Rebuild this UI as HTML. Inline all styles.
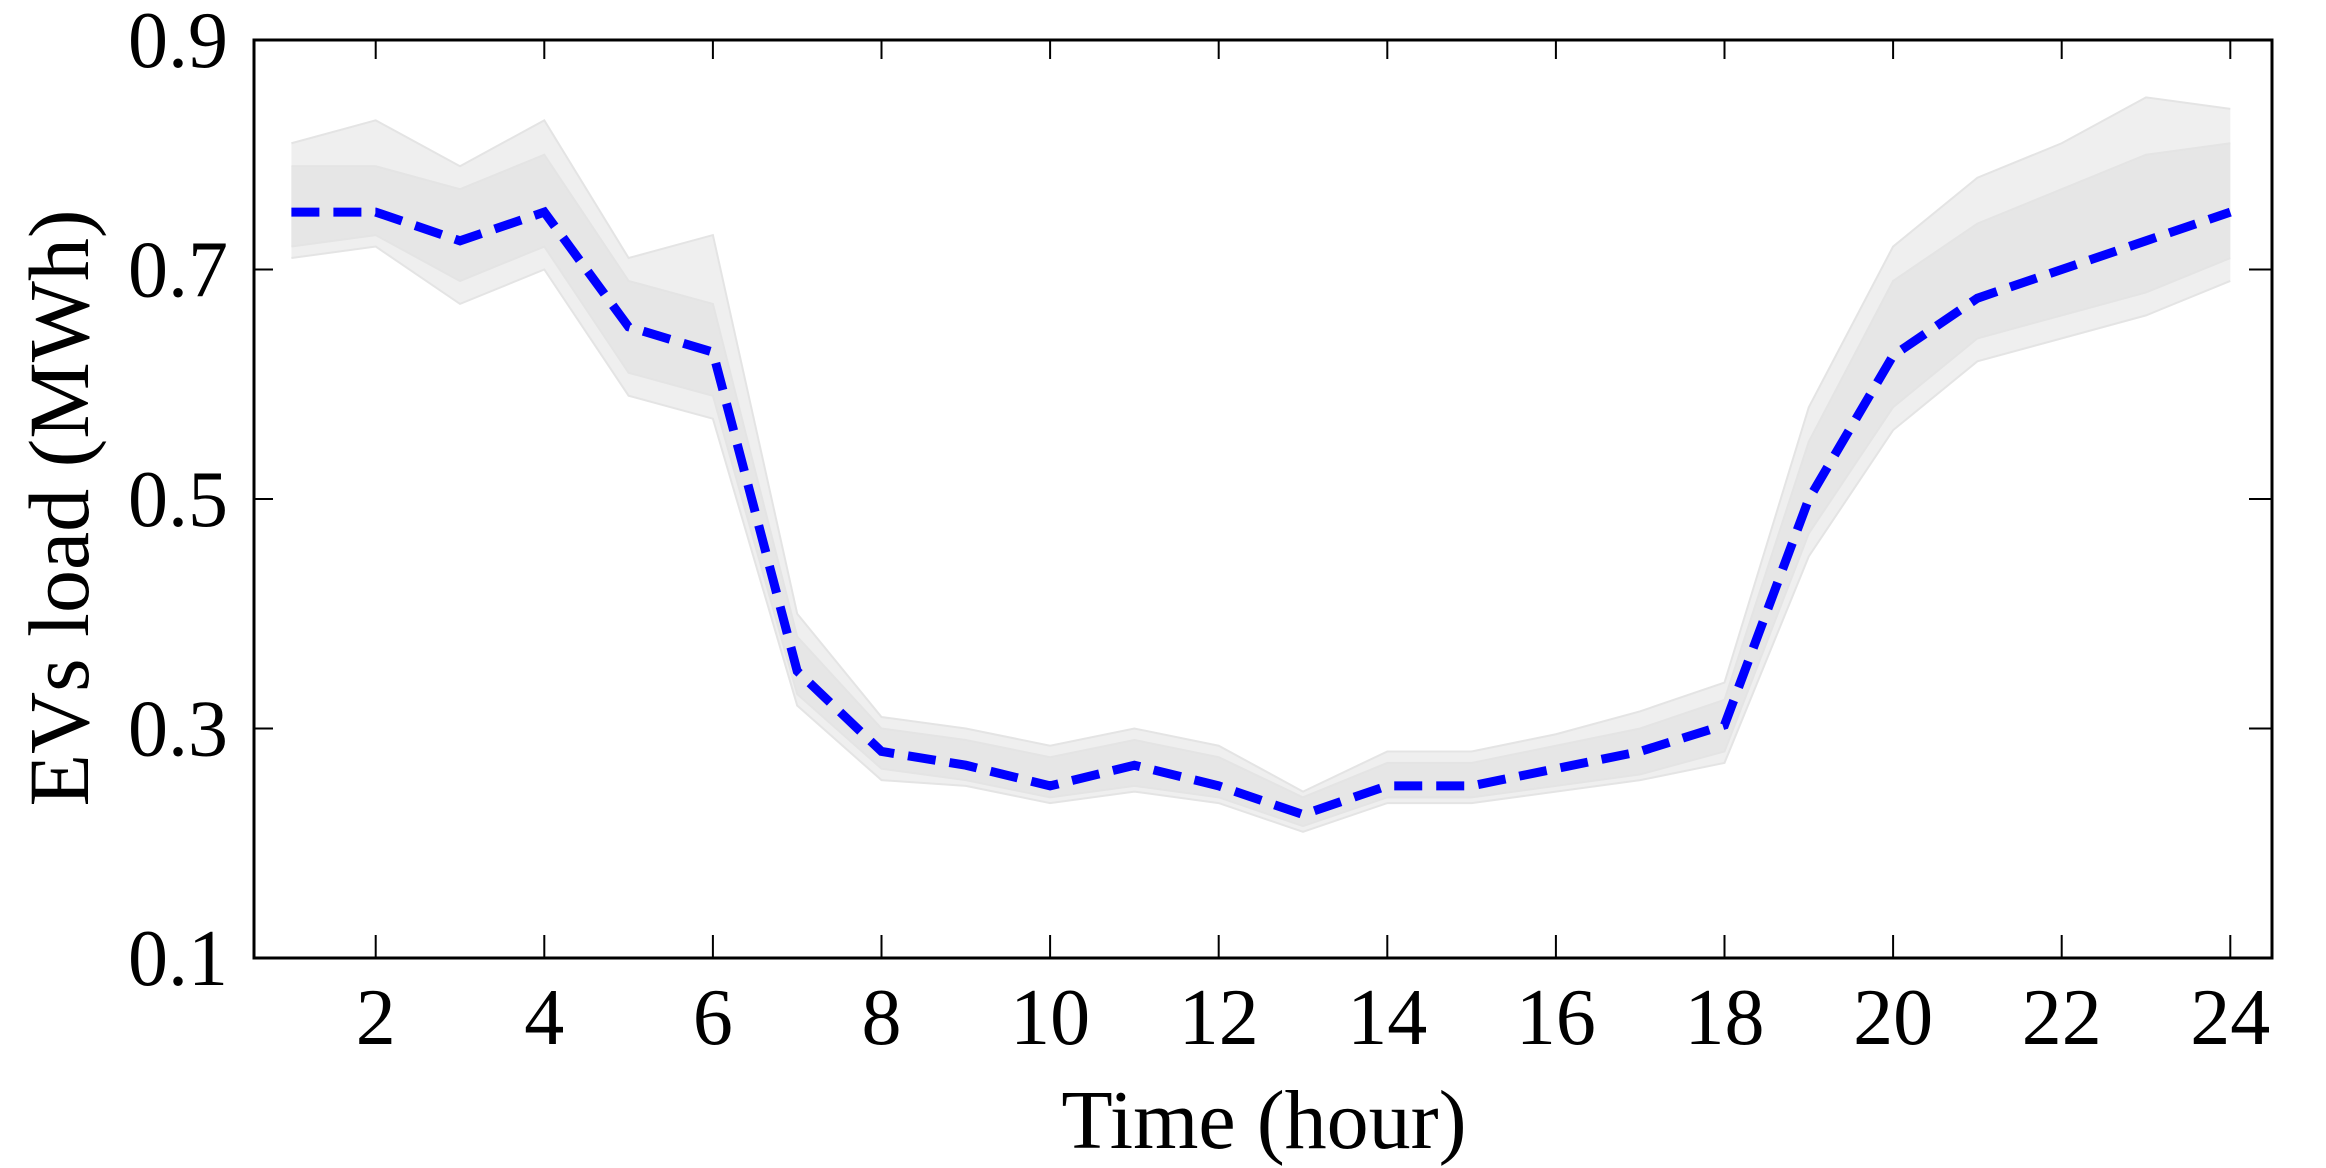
<!DOCTYPE html>
<html><head><meta charset="utf-8"><style>
html,body{margin:0;padding:0;background:#fff;}
svg{display:block;font-family:"Liberation Serif",serif;}
</style></head><body>
<svg id="chart" width="2326" height="1168" viewBox="0 0 2326 1168" xmlns="http://www.w3.org/2000/svg">
<g id="bands"></g>
<g id="lines"></g>
<g id="mean"></g>
<g id="axes"></g>
<text x="1264" y="1148" font-size="84" text-anchor="middle">Time (hour)</text>
<text transform="translate(88,508) rotate(-90)" font-size="86" text-anchor="middle">EVs load (MWh)</text>
</svg>
<script>
const hours = [1,2,3,4,5,6,7,8,9,10,11,12,13,14,15,16,17,18,19,20,21,22,23,24];
const meanLoad = [0.75,0.75,0.725,0.75,0.65,0.628,0.35,0.28,0.268,0.25,0.268,0.25,0.225,0.25,0.25,0.265,0.28,0.303,0.5,0.625,0.675,0.7,0.725,0.75];
const outerUpper = [0.81,0.83,0.79,0.83,0.71,0.73,0.40,0.31,0.30,0.285,0.30,0.285,0.245,0.28,0.28,0.295,0.315,0.34,0.58,0.72,0.78,0.81,0.85,0.84];
const outerLower = [0.71,0.72,0.67,0.70,0.59,0.57,0.32,0.255,0.25,0.235,0.245,0.235,0.21,0.235,0.235,0.245,0.255,0.27,0.45,0.56,0.62,0.64,0.66,0.69];
const innerUpper = [0.79,0.79,0.77,0.80,0.69,0.67,0.38,0.30,0.29,0.275,0.29,0.275,0.24,0.27,0.27,0.285,0.30,0.325,0.55,0.69,0.74,0.77,0.80,0.81];
const innerLower = [0.72,0.73,0.69,0.72,0.61,0.59,0.33,0.265,0.255,0.24,0.25,0.24,0.215,0.24,0.24,0.25,0.26,0.28,0.47,0.58,0.64,0.66,0.68,0.71];
const xTicks = [2,4,6,8,10,12,14,16,18,20,22,24];
const yTicks = [0.1,0.3,0.5,0.7,0.9];
const yTickLabels = ["0.1","0.3","0.5","0.7","0.9"];

const L=254, R=2272, T=40, B=958;
const xs = h => 291.4 + (h-1)*84.3;
const ys = v => B - (v-0.1)/0.8*(B-T);
const NS="http://www.w3.org/2000/svg";
function mk(tag, parent, attrs){const e=document.createElementNS(NS,tag);for(const k in attrs)e.setAttribute(k,attrs[k]);parent.appendChild(e);return e;}
const bands=document.getElementById('bands'), lines=document.getElementById('lines'), mean=document.getElementById('mean'), axes=document.getElementById('axes');

function bandPts(up,lo){return hours.map((h,i)=>xs(h)+','+ys(up[i])).concat(hours.slice().reverse().map((h,j)=>{const i=hours.length-1-j;return xs(h)+','+ys(lo[i]);})).join(' ');}
let p=mk('polygon',bands,{points:bandPts(outerUpper,outerLower),fill:'#efefef'});


p=mk('polygon',bands,{points:bandPts(innerUpper,innerLower),fill:'#e6e6e6'});


[outerUpper,outerLower,innerUpper,innerLower].forEach(arr=>{
  const l=mk('polyline',lines,{points:hours.map((h,i)=>xs(h)+','+ys(arr[i])).join(' '),fill:'none',stroke:'#e4e4e4','stroke-width':2});
  
  
});
const ml=mk('polyline',mean,{points:hours.map((h,i)=>xs(h)+','+ys(meanLoad[i])).join(' '),fill:'none',stroke:'#0000ff','stroke-width':9,'stroke-dasharray':'28 14'});



const fr=mk('rect',axes,{x:L,y:T,width:R-L,height:B-T,fill:'none',stroke:'#000','stroke-width':3});


xTicks.forEach(t=>{
  const x=xs(t);
  const a=mk('line',axes,{x1:x,y1:B,x2:x,y2:B-23,stroke:'#000','stroke-width':2});
  
  
  const b=mk('line',axes,{x1:x,y1:T,x2:x,y2:T+19,stroke:'#000','stroke-width':2});
  
  
  const tx=mk('text',axes,{x:x,y:1044,'font-size':80,'text-anchor':'middle'});
  tx.textContent=t;
  
  
});
yTicks.forEach((t,i)=>{
  const y=ys(t);
  const a=mk('line',axes,{x1:L,y1:y,x2:L+19,y2:y,stroke:'#000','stroke-width':2});
  
  
  const b=mk('line',axes,{x1:R,y1:y,x2:R-23,y2:y,stroke:'#000','stroke-width':2});
  
  
  const tx=mk('text',axes,{x:228,y:y+27,'font-size':80,'text-anchor':'end'});
  tx.textContent=yTickLabels[i];
  
  
});
</script>
</body></html>
